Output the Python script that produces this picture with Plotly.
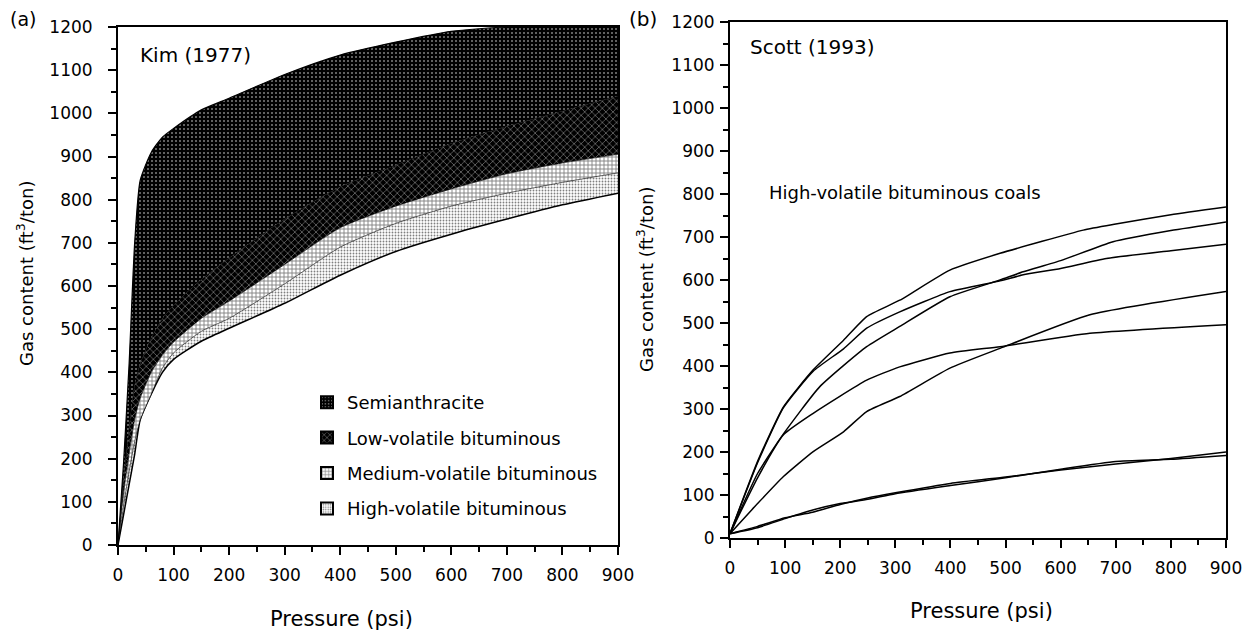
import plotly.graph_objects as go

W, H = 1252, 632
OFF = 8  # page body margin offset in the browser

# ---------------- Panel (a): Kim (1977) ----------------
pressure_a = [0, 10, 20, 30, 40, 60, 80, 100, 150, 200, 300, 400, 500, 600, 700, 800, 900]
bottom_hv = [0, 70, 140, 210, 290, 350, 400, 430, 472, 502, 560, 625, 680, 720, 755, 788, 815]
top_hv = [0, 90, 170, 240, 290, 350, 410, 445, 495, 525, 605, 690, 745, 785, 815, 840, 862]
top_mv = [0, 120, 210, 290, 340, 400, 440, 470, 525, 565, 650, 735, 785, 825, 860, 885, 905]
top_lv = [0, 150, 270, 370, 420, 480, 525, 555, 615, 665, 755, 830, 880, 930, 970, 1005, 1040]
top_sa = [0, 190, 420, 700, 845, 910, 945, 965, 1008, 1035, 1090, 1135, 1165, 1190, 1200, 1200, 1200]

rank_names = ["High-volatile bituminous", "Medium-volatile bituminous",
              "Low-volatile bituminous", "Semianthracite"]

# ---------------- Panel (b): Scott (1993) ----------------
curve_a_x = [0, 51, 97, 151, 206, 248, 308, 399, 490, 641, 700, 800, 900]
curve_a_y = [10, 181, 305, 391, 460, 515, 553, 623, 662, 716, 730, 752, 770]
curve_b_x = [0, 50, 97, 151, 206, 248, 308, 399, 490, 532, 600, 683, 800, 900]
curve_b_y = [10, 175, 303, 388, 440, 488, 526, 573, 598, 612, 627, 650, 668, 683]
curve_c_x = [0, 50, 97, 163, 248, 308, 399, 490, 532, 600, 695, 800, 900]
curve_c_y = [10, 150, 242, 352, 445, 492, 561, 600, 619, 645, 689, 715, 735]
curve_d_x = [0, 50, 97, 151, 248, 308, 399, 490, 653, 900]
curve_d_y = [10, 140, 240, 290, 367, 398, 430, 445, 476, 496]
curve_e_x = [0, 50, 97, 151, 206, 248, 308, 399, 490, 653, 900]
curve_e_y = [10, 80, 143, 201, 247, 294, 329, 395, 441, 519, 573]
curve_f_x = [0, 50, 100, 150, 200, 250, 300, 400, 500, 600, 700, 800, 900]
curve_f_y = [10, 27, 47, 60, 78, 93, 105, 127, 142, 158, 172, 185, 200]
curve_g_x = [0, 50, 100, 150, 200, 250, 300, 400, 500, 600, 700, 800, 900]
curve_g_y = [10, 24, 45, 65, 80, 90, 103, 122, 140, 160, 178, 183, 192]

x_ticks = list(range(0, 901, 100))
y_ticks = list(range(0, 1201, 100))

FONT = "DejaVu Sans"

fig = go.Figure()

patterns = {
    "High-volatile bituminous": dict(shape=".", fgcolor="black", bgcolor="white", size=3, solidity=0.3),
    "Medium-volatile bituminous": dict(shape="+", fgcolor="black", bgcolor="white", size=4, solidity=0.4),
    "Low-volatile bituminous": dict(shape="x", fgcolor="white", bgcolor="black", size=5, solidity=0.25),
    "Semianthracite": dict(shape=".", fgcolor="white", bgcolor="black", size=4, solidity=0.2),
}

# bottom boundary of the fills
fig.add_trace(go.Scatter(x=pressure_a, y=bottom_hv, mode="lines",
                         line=dict(color="black", width=1.5, shape="spline", smoothing=0.6),
                         showlegend=False, hoverinfo="skip", xaxis="x", yaxis="y"))
for name, ys in zip(rank_names, [top_hv, top_mv, top_lv, top_sa]):
    fig.add_trace(go.Scatter(x=pressure_a, y=ys, mode="lines", fill="tonexty",
                             fillcolor="white", fillpattern=patterns[name],
                             line=dict(color="black", width=0.6 if name != "Semianthracite" else 1.2,
                                       shape="spline", smoothing=0.6),
                             showlegend=False, hoverinfo="skip", xaxis="x", yaxis="y"))

# legend entries
for i, name in enumerate(reversed(rank_names)):
    fig.add_trace(go.Bar(x=[None], y=[None], name=name, legendgroup=name,
                         marker=dict(color="white", pattern=patterns[name],
                                     line=dict(color="black", width=2)),
                         xaxis="x", yaxis="y", legendrank=i + 1))

for xs, ys in [(curve_a_x, curve_a_y), (curve_b_x, curve_b_y), (curve_c_x, curve_c_y),
               (curve_d_x, curve_d_y), (curve_e_x, curve_e_y), (curve_f_x, curve_f_y),
               (curve_g_x, curve_g_y)]:
    fig.add_trace(go.Scatter(x=xs, y=ys, mode="lines",
                             line=dict(color="black", width=1.5, shape="spline", smoothing=0.5),
                             showlegend=False, hoverinfo="skip", xaxis="x2", yaxis="y2"))

def px(x):
    return (x - OFF) / W

def py(y):
    return 1 - (y - OFF) / H

axis_common = dict(showgrid=False, zeroline=False, showline=True, linecolor="black", linewidth=2,
                   mirror=True, ticks="outside", ticklen=8, tickwidth=1.8, tickcolor="black",
                   automargin=False,
                   tickfont=dict(family=FONT, size=17, color="black"),
                   minor=dict(dtick=50, ticks="outside", ticklen=5, tickwidth=1.5, tickcolor="black"))

fig.update_layout(
    width=W, height=H, margin=dict(l=0, r=0, t=0, b=0, pad=0, autoexpand=False),
    paper_bgcolor="white", plot_bgcolor="white",
    font=dict(family=FONT, color="black"),
    xaxis=dict(domain=[px(118), px(618)], range=[0, 900], tickvals=x_ticks,
               anchor="y", ticklabelstandoff=6, **axis_common),
    yaxis=dict(domain=[py(545), py(27)], range=[0, 1200], tickvals=y_ticks,
               anchor="x", ticklabelstandoff=12, **axis_common),
    xaxis2=dict(domain=[px(730), px(1226)], range=[0, 900], tickvals=x_ticks,
                anchor="y2", ticklabelstandoff=6, **axis_common),
    yaxis2=dict(domain=[py(538), py(22)], range=[0, 1200], tickvals=y_ticks,
                anchor="x2", ticklabelstandoff=2, **axis_common),
    legend=dict(x=px(307), y=py(384), xanchor="left", yanchor="top",
                font=dict(family=FONT, size=18, color="black"),
                bgcolor="rgba(0,0,0,0)", borderwidth=0, tracegroupgap=9,
                itemwidth=30),
    showlegend=True,
)

annotations = [
    dict(text="(a)", x=px(23), y=py(19), size=19),
    dict(text="(b)", x=px(643), y=py(19), size=20),
    dict(text="Kim (1977)", x=px(195), y=py(55), size=20),
    dict(text="Scott (1993)", x=px(812), y=py(47), size=20),
    dict(text="High-volatile bituminous coals", x=px(905), y=py(192), size=18),
    dict(text="Pressure (psi)", x=px(341), y=py(619), size=21),
    dict(text="Pressure (psi)", x=px(982), y=py(611), size=21),
    dict(text="Gas content (ft<sup>3</sup>/ton)", x=px(25), y=py(274), size=18, angle=-90),
    dict(text="Gas content (ft<sup>3</sup>/ton)", x=px(645), y=py(280), size=18, angle=-90),
]
for a in annotations:
    fig.add_annotation(text=a["text"], x=a["x"], y=a["y"], xref="paper", yref="paper",
                       showarrow=False, xanchor="center", yanchor="middle",
                       textangle=a.get("angle", 0),
                       font=dict(family=FONT, size=a["size"], color="black"))

fig.write_html("out.html")
